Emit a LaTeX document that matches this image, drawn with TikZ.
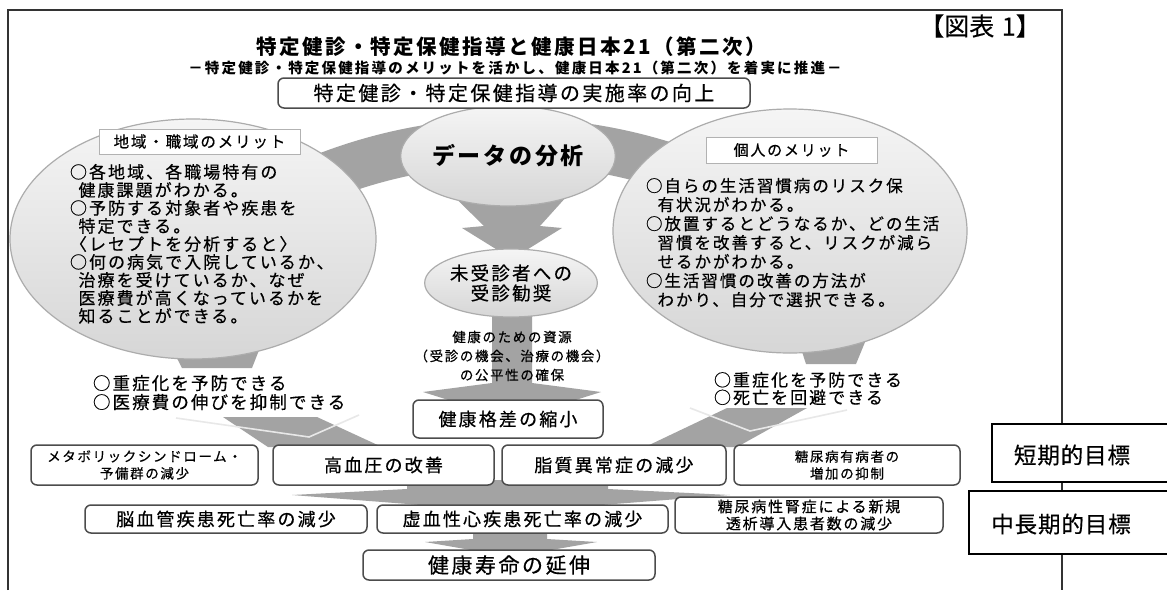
\documentclass[tikz,border=0pt]{standalone}
\usepackage{fontspec}
\usetikzlibrary{shapes.geometric}
\newfontfamily\jp{Noto Sans CJK JP}[LetterSpace=12, FakeBold=0.5]
\newfontfamily\jpt{Noto Sans CJK JP}[LetterSpace=4, FakeBold=0.5]
\newfontfamily\jpb{Noto Sans CJK JP}[LetterSpace=12]
\newfontfamily\jpw{Noto Sans CJK JP}[LetterSpace=15]
\newfontfamily\jpn{Noto Sans CJK JP}[FakeBold=0.3]
\newcommand{\jf}[2]{\jp\fontsize{#1pt}{#2pt}\selectfont}
\newcommand{\jft}[2]{\jpt\fontsize{#1pt}{#2pt}\selectfont}
\definecolor{bandc}{gray}{0.64}
\definecolor{boxln}{gray}{0.3}
\tikzset{
 rbox/.style={draw=boxln, line width=1.5pt, rounded corners=6pt, fill=white, inner sep=0pt, outer sep=0pt, align=center},
 hbox/.style={draw=gray!60, line width=1pt, fill=white, inner sep=0pt},
 gbox/.style={draw=black, line width=1.5pt, fill=white, inner sep=0pt},
 txt/.style={inner sep=0pt, outer sep=0pt},
 band/.style={fill=bandc},
 bigc/.style={ellipse, draw=gray!65, line width=1.2pt, top color=gray!8, bottom color=gray!32, inner sep=0pt, outer sep=0pt},
 frameln/.style={draw=black!80, line width=1.2pt},
 vline/.style={draw=gray!18, line width=1.6pt},
}
\begin{document}
\begin{tikzpicture}[x=1pt,y=-1pt]
\useasboundingbox (0,0) rectangle (1167,590);
\fill[white] (0,0) rectangle (1167,590);
% frame
\draw[frameln] (8,590) -- (8,10) -- (1062,10) -- (1062,590);
% top arc band
\fill[band] ([shift={(511,655)}]235:537) arc[start angle=235,end angle=305,radius=537]
  -- ([shift={(511,655)}]305:490) arc[start angle=305,end angle=235,radius=490] -- cycle;
% funnel arrow data -> jushin
\fill[band] (432,175) -- (586,175) -- (540,226) -- (562,228) -- (512,259) -- (462,228) -- (484,226) -- cycle;
% arrow jushin -> kakusa
\fill[band] (492,300) -- (532,300) -- (532,383) -- (601,392) -- (512,420) -- (423,392) -- (492,383) -- cycle;
% stubs below circles
\fill[band] (165,335) -- (265,335) -- (252,368) -- (182,368) -- cycle;
\fill[band] (795,330) -- (870,330) -- (856,364) -- (806,364) -- cycle;
% chevrons
\fill[band] (223,417) -- (317,417) -- (382,447) -- (268,447) -- cycle;
\draw[vline] (176,418) -- (309,437) -- (359,415);
\fill[band] (727,408) -- (807,408) -- (737,447) -- (645,447) -- cycle;
\draw[vline] (690,408) -- (750,431) -- (847,410);
% row arrows
\fill[band] (407,480) -- (608,480) -- (608,489) -- (730,495) -- (511,512) -- (292,495) -- (407,489) -- cycle;
\fill[band] (473,528) -- (547,528) -- (547,539) -- (597,542) -- (511,557) -- (425,542) -- (473,539) -- cycle;

% big circles and ellipses
\node[bigc, minimum width=366pt, minimum height=240pt] (lcirc) at (193,239) {};
\node[bigc, minimum width=354pt, minimum height=244pt] (rcirc) at (790,231) {};
\node[bigc, minimum width=172pt, minimum height=100pt, font=\jpb\bfseries\fontsize{23}{25}\selectfont] (data) at (508,156) {データの分析};
\node[bigc, minimum width=166pt, minimum height=68pt, align=center, font=\jf{18.5}{20}] (jushin) at (511,283) {未受診者への\\受診勧奨};

% titles
\node[txt, font=\jpn\fontsize{25}{27}\selectfont] (zuhyo) at (980,26) {【図表\hspace{0.3em}1】};
\node[txt, font=\jpb\bfseries\fontsize{20.5}{22}\selectfont] (title) at (511,47) {特定健診・特定保健指導と健康日本21（第二次）};
\node[txt, font=\jpw\bfseries\fontsize{14.5}{16}\selectfont] (subtitle) at (515,68) {－特定健診・特定保健指導のメリットを活かし、健康日本21（第二次）を着実に推進－};
\node[rbox, minimum width=472pt, minimum height=30pt, font=\jf{20}{22}] (impl) at (514,93) {特定健診・特定保健指導の実施率の向上};

% headers
\node[hbox, minimum width=201pt, minimum height=25pt, font=\jf{15.5}{17}] (lhdr) at (199.5,141.5) {地域・職域のメリット};
\node[hbox, minimum width=171pt, minimum height=26pt, font=\jf{15}{17}] (rhdr) at (791.5,150) {個人のメリット};

% circle texts
\node[txt, anchor=north west, align=left, font=\jf{17}{18}] (ltext) at (70,164) {○各地域、各職場特有の\\\hspace*{0.5em}健康課題がわかる。\\○予防する対象者や疾患を\\\hspace*{0.5em}特定できる。\\〈レセプトを分析すると〉\\○何の病気で入院しているか、\\\hspace*{0.5em}治療を受けているか、なぜ\\\hspace*{0.5em}医療費が高くなっているかを\\\hspace*{0.5em}知ることができる。};
\node[txt, anchor=north west, align=left, font=\jf{16.5}{19}] (rtext) at (646,178) {○自らの生活習慣病のリスク保\\\hspace*{0.7em}有状況がわかる。\\○放置するとどうなるか、どの生活\\\hspace*{0.7em}習慣を改善すると、リスクが減ら\\\hspace*{0.7em}せるかがわかる。\\○生活習慣の改善の方法が\\\hspace*{0.7em}わかり、自分で選択できる。};

\node[txt, align=center, font=\jf{13.5}{19}] (shigen) at (512,356) {健康のための資源\\（受診の機会、治療の機会）\\の公平性の確保};
\node[txt, anchor=north west, align=left, font=\jf{17.5}{19}] (lout) at (93,375) {○重症化を予防できる\\○医療費の伸びを抑制できる};
\node[txt, anchor=north west, align=left, font=\jf{17}{17.5}] (rout) at (714,372) {○重症化を予防できる\\○死亡を回避できる};

% boxes
\node[rbox, minimum width=190pt, minimum height=38pt, font=\jf{18}{20}] (kakusa) at (508,419) {健康格差の縮小};
\node[rbox, minimum width=227pt, minimum height=40pt, font=\jf{13.5}{17}] (metabo) at (144.5,465) {メタボリックシンドローム・\\予備群の減少};
\node[rbox, minimum width=221pt, minimum height=40pt, font=\jf{18}{20}] (koketsu) at (383.5,465) {高血圧の改善};
\node[rbox, minimum width=224pt, minimum height=40pt, font=\jf{18}{20}] (shishitsu) at (614,465) {脂質異常症の減少};
\node[rbox, minimum width=226pt, minimum height=40pt, font=\jf{13.5}{17}] (tonyo) at (847,465) {糖尿病有病者の\\増加の抑制};
\node[rbox, minimum width=282pt, minimum height=28pt, font=\jf{18}{20}] (nou) at (226,519) {脳血管疾患死亡率の減少};
\node[rbox, minimum width=291pt, minimum height=28pt, font=\jf{18}{20}] (kyoketsu) at (522.5,519) {虚血性心疾患死亡率の減少};
\node[rbox, minimum width=268pt, minimum height=36pt, font=\jf{15}{17}] (jinsho) at (809,515) {糖尿病性腎症による新規\\透析導入患者数の減少};
\node[rbox, minimum width=292pt, minimum height=30pt, font=\jf{21}{23}] (jumyo) at (509,565) {健康寿命の延伸};

% goal boxes
\node[gbox, anchor=north west, minimum width=190pt, minimum height=58pt] (tanki) at (991,423) {};
\node[txt, font=\jft{22.5}{24}] (tankit) at (1072,455) {短期的目標};
\node[gbox, anchor=north west, minimum width=212pt, minimum height=63pt] (chuki) at (968,490) {};
\node[txt, font=\jft{22.5}{24}] (chukit) at (1061,524) {中長期的目標};
\end{tikzpicture}
\end{document}
